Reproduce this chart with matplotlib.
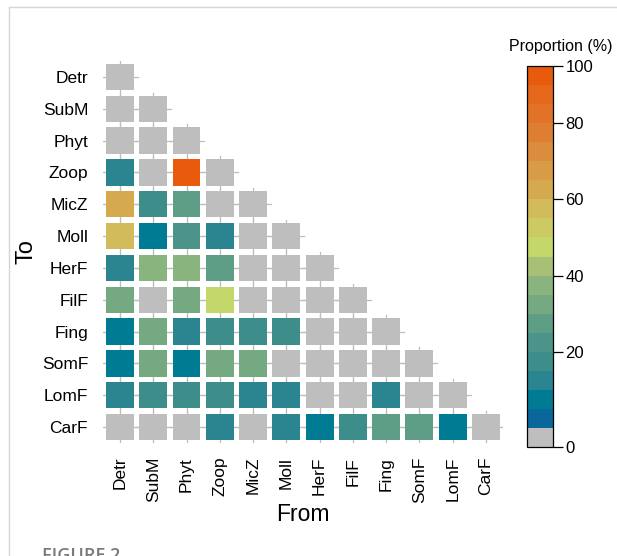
import matplotlib
matplotlib.use('Agg')
import matplotlib.pyplot as plt
import matplotlib.colors as mcolors
from matplotlib.cm import ScalarMappable
from matplotlib.lines import Line2D
from matplotlib.patches import Rectangle

plt.rcParams['font.family'] = ['Liberation Sans', 'DejaVu Sans']

groups = ["Detr", "SubM", "Phyt", "Zoop", "MicZ", "Moll",
          "HerF", "FilF", "Fing", "SomF", "LomF", "CarF"]

# proportion (%) of flow from column group into row group, lower triangle
props = [
    [0],
    [0, 0],
    [0, 0, 0],
    [12, 0, 92, 0],
    [62, 18, 27, 0, 0],
    [57, 7, 21, 12, 0, 0],
    [12, 37, 37, 27, 0, 0, 0],
    [32, 0, 32, 47, 0, 0, 0, 0],
    [7, 32, 12, 18, 18, 18, 0, 0, 0],
    [7, 32, 7, 32, 32, 0, 0, 0, 0, 0],
    [14, 17, 17, 19, 12, 12, 0, 0, 12, 0, 0],
    [0, 0, 0, 12, 0, 12, 7, 18, 27, 27, 7, 0],
]

bounds = [0, 1, 5, 10, 15, 20, 25, 30, 35, 40, 45, 50,
          55, 60, 65, 70, 75, 80, 85, 90, 100]
palette = ['#BEBEBE',
           '#0A679C', '#007B94', '#2A8590', '#3D8D8B', '#4C9489',
           '#5E9D86', '#75A981', '#8AB47D', '#A7C076', '#C4D76A',
           '#CCCB62', '#D1BB5A', '#D5AA4F', '#D89B46', '#DB8C3C',
           '#DE7E32', '#E17228', '#E4671C', '#E85B0C']
cbar_ticks = [0, 20, 40, 60, 80, 100]

cmap = mcolors.ListedColormap(palette)
norm = mcolors.BoundaryNorm(bounds, cmap.N)

fig = plt.figure(figsize=(6.17, 5.56), dpi=100)

# page frame
fig.add_artist(Line2D([9 / 617, 1], [1 - 7 / 556, 1 - 7 / 556],
                      transform=fig.transFigure, color='#D6D6D6', lw=1))
fig.add_artist(Line2D([9 / 617, 9 / 617], [0, 1 - 7 / 556],
                      transform=fig.transFigure, color='#D6D6D6', lw=1))

ax = fig.add_axes([0.1675, 0.2034, 0.647, 0.6867])

for i, row in enumerate(props):
    for j, v in enumerate(row):
        ax.plot([j - 0.54, j + 0.54], [i, i], color='#BDBDBD', lw=0.9, zorder=1)
        ax.plot([j, j], [i - 0.51, i + 0.51], color='#BDBDBD', lw=0.9, zorder=1)
        ax.add_patch(Rectangle((j - 0.42, i - 0.415), 0.84, 0.83,
                               facecolor=cmap(norm(v)), edgecolor='none', zorder=2))

n = len(groups)
ax.set_xlim(-0.5, n - 0.5)
ax.set_ylim(n - 0.5, -0.5)
ax.set_xticks(range(n), groups, rotation=90, fontsize=12.5)
ax.set_yticks(range(n), groups, fontsize=12.5)
ax.tick_params(axis='x', length=0, pad=10)
ax.tick_params(axis='y', length=0, pad=11)
for s in ax.spines.values():
    s.set_visible(False)
ax.set_xlabel('From', fontsize=16.5, labelpad=0)
ax.set_ylabel('To', fontsize=17, labelpad=3)

cax = fig.add_axes([527 / 617, 1 - 447 / 556, 26 / 617, 381 / 556])
cb = fig.colorbar(ScalarMappable(norm=norm, cmap=cmap), cax=cax,
                  spacing='uniform', ticks=cbar_ticks)
cb.minorticks_off()
cb.outline.set_linewidth(0.9)
cb.ax.tick_params(length=7, width=0.9, labelsize=12, pad=2)
fig.text(561 / 617, 1 - 47 / 556, 'Proportion (%)', ha='center', va='center', fontsize=11.5)

fig.text(42 / 617, 1 - 547 / 556, 'FIGURE 2', ha='left', va='top', fontsize=13,
         color='#7A7A7A', family='Open Sans', weight='semibold')

fig.savefig('out.png', dpi=100)
